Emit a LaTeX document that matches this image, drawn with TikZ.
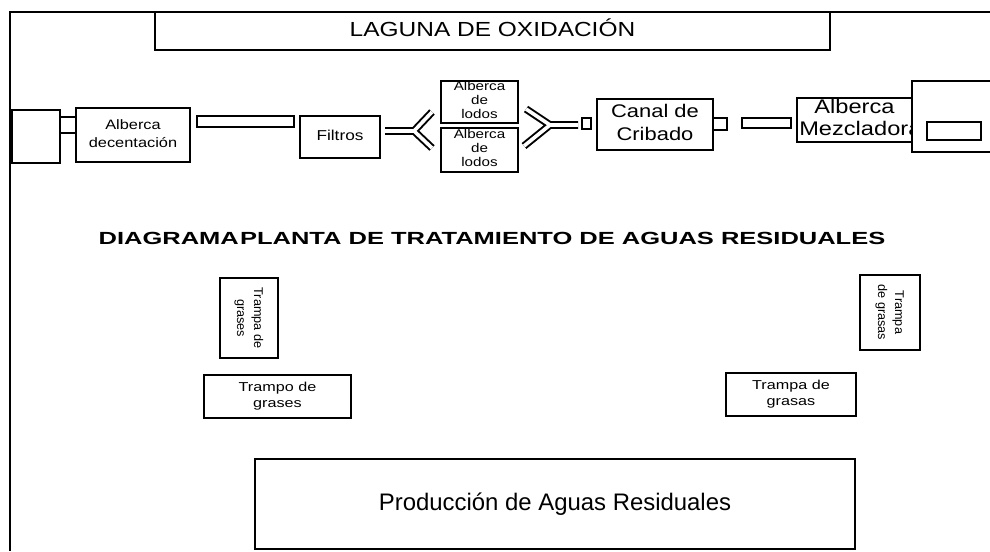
\documentclass[tikz,border=0pt]{standalone}
\usepackage{fontspec}
\setmainfont{Liberation Sans}
\usepackage{graphicx}
\newcommand{\wtxt}[2][1.2]{\scalebox{#1}[1]{\begin{tabular}{@{}c@{}}#2\end{tabular}}}
\tikzset{
    unit/.style={draw, line width=1.1pt, inner sep=0pt, fill=white},
    pipe/.style={draw, line width=1.4pt, double=white, double distance=0.09cm},
}

\begin{document}
\begin{tikzpicture}[x=0.025cm, y=-0.025cm]
            \useasboundingbox (0,0) rectangle (990,551);
            \draw[line width=1.1pt] (10,551) -- (10,12) -- (990,12);

            \node[unit, minimum width=16.875cm, minimum height=0.95cm, font=\fontsize{14.5}{17}\selectfont] (laguna) at (492.5,31) {\wtxt{LAGUNA DE OXIDACIÓN}};

            % linea de tratamiento
            \node[unit, minimum width=1.2cm, minimum height=1.325cm] (tanque) at (36,136.5) {};
            \node[unit, minimum width=0.4cm, minimum height=0.4cm] (p1) at (68,125) {};
            \node[unit, minimum width=2.85cm, minimum height=1.35cm, font=\fontsize{9.7}{13}\selectfont] (decant) at (133,135) {\wtxt{Alberca\\decentación}};
            \node[unit, minimum width=2.425cm, minimum height=0.275cm] (p2) at (245.5,121.5) {};
            \node[unit, minimum width=2cm, minimum height=1.05cm, font=\fontsize{10.2}{12}\selectfont] (filtros) at (340,137) {\wtxt{Filtros}};
            \node[unit, minimum width=1.925cm, minimum height=1.05cm, font=\fontsize{9}{10}\selectfont] (lodosA) at (479.5,102) {\wtxt{Alberca\\de\\lodos}};
            \node[unit, minimum width=1.925cm, minimum height=1.1cm, font=\fontsize{9}{10}\selectfont] (lodosB) at (479.5,150) {\wtxt{Alberca\\de\\lodos}};
            \node[unit, minimum width=0.225cm, minimum height=0.275cm] (p3) at (586.5,123.5) {};
            \node[unit, minimum width=2.9cm, minimum height=1.275cm, font=\fontsize{13}{16}\selectfont] (canal) at (655,124.5) {\wtxt{Canal de\\Cribado}};
            \node[unit, minimum width=0.35cm, minimum height=0.3cm] (p4) at (720,124) {};
            \node[unit, minimum width=1.225cm, minimum height=0.25cm] (p5) at (766.5,123) {};
            \node[unit, minimum width=2.875cm, minimum height=1.1cm, font=\fontsize{14}{15.5}\selectfont] (mezcla) at (854.5,120) {\wtxt{Alberca\\\makebox[2.3cm][l]{Mezcladora}}};
            \node[unit, minimum width=2.45cm, minimum height=1.775cm] (salida) at (961,116.5) {};
            \node[unit, minimum width=1.35cm, minimum height=0.45cm] (p6) at (954,131) {};

            % bifurcaciones
            \coordinate (yl) at (414,131);
            \coordinate (ylA) at (432,112);
            \coordinate (ylB) at (432,148);
            \coordinate (ylS) at (385,131);
            \draw[pipe] (ylA) -- (yl) -- (ylB) (yl) -- (ylS);
            \coordinate (yr) at (550,125);
            \coordinate (yrA) at (526,109);
            \coordinate (yrB) at (524,146);
            \coordinate (yrS) at (578,125);
            \draw[pipe] (yrA) -- (yr) -- (yrB) (yr) -- (yrS);

            \node[font=\fontsize{12.5}{15}\bfseries] (titulo) at (492,240) {\wtxt[1.45]{DIAGRAMA\hspace{0.05em}PLANTA DE TRATAMIENTO DE AGUAS RESIDUALES}};

            % trampas de grasas
            \node[unit, rotate=-90, minimum width=2cm, minimum height=1.45cm, font=\fontsize{9}{12}\selectfont] (trampaLv) at (249,318) {\wtxt[1]{Trampa de\\grases}};
            \node[unit, rotate=-90, minimum width=1.875cm, minimum height=1.5cm, font=\fontsize{9}{12}\selectfont] (trampaRv) at (890,312.5) {\wtxt[1]{Trampa\\de grasas}};
            \node[unit, minimum width=3.675cm, minimum height=1.075cm, font=\fontsize{9.2}{11}\selectfont] (trampaLh) at (277.5,396.5) {\wtxt[1.25]{Trampo de\\grases}};
            \node[unit, minimum width=3.25cm, minimum height=1.075cm, font=\fontsize{9.2}{11}\selectfont] (trampaRh) at (791,394.5) {\wtxt[1.25]{Trampa de\\grasas}};

            \node[unit, minimum width=15cm, minimum height=2.25cm, font=\fontsize{17}{20}\selectfont] (produccion) at (555,504) {Producción de Aguas Residuales};
        \end{tikzpicture}
\end{document}
